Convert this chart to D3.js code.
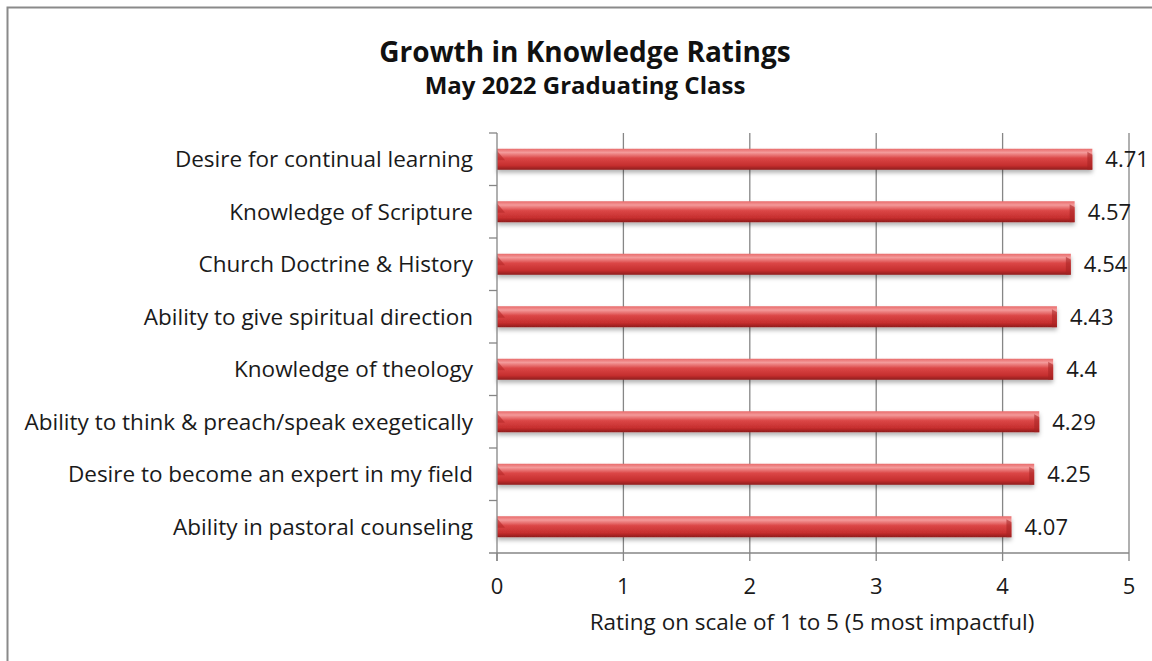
<!DOCTYPE html>
<html>
<head>
<meta charset="utf-8">
<script src="https://cdn.jsdelivr.net/npm/d3@7"></script>
<style>
  body { margin: 0; background: #fff; }
  svg { display: block; font-family: 'Open Sans', sans-serif; }
</style>
</head>
<body>
<div class="bar-chart"></div>
<script>
// ------------------------------------------------------
const width = 1152;
const height = 661;
const categories = [
    'Desire for continual learning',
    'Knowledge of Scripture',
    'Church Doctrine & History',
    'Ability to give spiritual direction',
    'Knowledge of theology',
    'Ability to think & preach/speak exegetically',
    'Desire to become an expert in my field',
    'Ability in pastoral counseling'
];
const ratings = [ 4.71, 4.57, 4.54, 4.43, 4.4, 4.29, 4.25, 4.07 ];
const ratingLabels = [ '4.71', '4.57', '4.54', '4.43', '4.4', '4.29', '4.25', '4.07' ];
const xTicks = [ 0, 1, 2, 3, 4, 5 ];
// ------------------------------------------------------
const plot = { left: 497, right: 1129, top: 133, bottom: 553 };
const textColor = '#1a1a1a';
const axisColor = '#868686';
// ------------------------------------------------------
const svg = d3.select( '.bar-chart' )
    .append( 'svg' )
    .attr( 'width', width )
    .attr( 'height', height );

// gradient for the cylinder look
const defs = svg.append( 'defs' );
const grad = defs.append( 'linearGradient' )
    .attr( 'id', 'barGrad' )
    .attr( 'x1', 0 ).attr( 'y1', 0 ).attr( 'x2', 0 ).attr( 'y2', 1 );
grad.append( 'stop' ).attr( 'offset', '0%' ).attr( 'stop-color', '#e86a6a' );
grad.append( 'stop' ).attr( 'offset', '18%' ).attr( 'stop-color', '#f49a9a' );
grad.append( 'stop' ).attr( 'offset', '45%' ).attr( 'stop-color', '#db4646' );
grad.append( 'stop' ).attr( 'offset', '80%' ).attr( 'stop-color', '#c52e2e' );
grad.append( 'stop' ).attr( 'offset', '100%' ).attr( 'stop-color', '#8e1c1c' );

const shadow = defs.append( 'filter' ).attr( 'id', 'shadow' )
    .attr( 'x', '-5%' ).attr( 'y', '-20%' ).attr( 'width', '110%' ).attr( 'height', '160%' );
shadow.append( 'feDropShadow' )
    .attr( 'dx', 0 ).attr( 'dy', 3 ).attr( 'stdDeviation', 2 )
    .attr( 'flood-color', '#000' ).attr( 'flood-opacity', 0.3 );

// outer frame (only left and top visible)
svg.append( 'rect' )
    .attr( 'x', 7.5 ).attr( 'y', 7.5 )
    .attr( 'width', width + 20 ).attr( 'height', height + 20 )
    .attr( 'fill', 'none' )
    .attr( 'stroke', '#8a8a8a' )
    .attr( 'stroke-width', 2 );

// ------------------------------------------------------
const x = d3.scaleLinear()
    .domain( [ 0, 5 ] )
    .range( [ plot.left, plot.right ] );

const y = d3.scaleBand()
    .domain( categories )
    .range( [ plot.top, plot.bottom ] )
    .paddingInner( 0.6 )
    .paddingOuter( 0.3 );

const yEdges = d3.scaleBand()
    .domain( categories )
    .range( [ plot.top, plot.bottom ] );

// gridlines
svg.append( 'g' )
    .selectAll( 'line' )
    .data( xTicks.slice( 1 ) )
    .enter()
    .append( 'line' )
    .attr( 'x1', d => x( d ) ).attr( 'x2', d => x( d ) )
    .attr( 'y1', plot.top ).attr( 'y2', plot.bottom )
    .attr( 'stroke', axisColor )
    .attr( 'stroke-width', 1.3 );

// bars
const bars = svg.append( 'g' )
    .selectAll( 'g' )
    .data( categories )
    .enter()
    .append( 'g' );

bars.append( 'rect' )
    .attr( 'x', x( 0 ) )
    .attr( 'y', d => y( d ) )
    .attr( 'width', ( d, i ) => x( ratings[ i ] ) - x( 0 ) )
    .attr( 'height', y.bandwidth() )
    .attr( 'fill', 'url(#barGrad)' )
    .attr( 'filter', 'url(#shadow)' );

// bevel at the left end
bars.append( 'path' )
    .attr( 'd', d => {
        const x0 = x( 0 ), y0 = y( d ), h = y.bandwidth();
        return 'M' + x0 + ',' + ( y0 + 2 ) + 'L' + ( x0 + 8 ) + ',' + ( y0 + h * 0.55 ) +
            'L' + x0 + ',' + ( y0 + h * 0.55 ) + 'Z';
    })
    .attr( 'fill', '#b62828' )
    .attr( 'opacity', 0.6 );

// bevel at the right end
bars.append( 'path' )
    .attr( 'd', ( d, i ) => {
        const x1 = x( ratings[ i ] ), y0 = y( d ), h = y.bandwidth();
        return 'M' + ( x1 - 5 ) + ',' + ( y0 + 3 ) + 'L' + x1 + ',' + ( y0 + 6 ) +
            'L' + x1 + ',' + ( y0 + h ) + 'L' + ( x1 - 5 ) + ',' + ( y0 + h ) + 'Z';
    })
    .attr( 'fill', '#a62222' )
    .attr( 'opacity', 0.55 );

// value labels
bars.append( 'text' )
    .attr( 'x', ( d, i ) => x( ratings[ i ] ) + 13 )
    .attr( 'y', d => y( d ) + y.bandwidth() / 2 )
    .attr( 'dy', '0.36em' )
    .attr( 'font-size', '22px' )
    .attr( 'fill', textColor )
    .text( ( d, i ) => ratingLabels[ i ] );

// y axis
const yAxis = svg.append( 'g' )
    .attr( 'transform', 'translate(' + plot.left + ',0)' );
yAxis.append( 'line' )
    .attr( 'x1', 0 ).attr( 'x2', 0 )
    .attr( 'y1', plot.top ).attr( 'y2', plot.bottom + 8 )
    .attr( 'stroke', axisColor ).attr( 'stroke-width', 1.3 );
yAxis.selectAll( '.tick-mark' )
    .data( categories )
    .enter()
    .append( 'line' )
    .attr( 'x1', -8 ).attr( 'x2', 0 )
    .attr( 'y1', d => yEdges( d ) ).attr( 'y2', d => yEdges( d ) )
    .attr( 'stroke', axisColor ).attr( 'stroke-width', 1.3 );
yAxis.selectAll( 'text' )
    .data( categories )
    .enter()
    .append( 'text' )
    .attr( 'x', -24 )
    .attr( 'y', d => y( d ) + y.bandwidth() / 2 )
    .attr( 'dy', '0.36em' )
    .attr( 'text-anchor', 'end' )
    .attr( 'font-size', '22.5px' )
    .attr( 'fill', textColor )
    .text( d => d );

// x axis
const xAxis = svg.append( 'g' )
    .attr( 'transform', 'translate(0,' + plot.bottom + ')' );
xAxis.append( 'line' )
    .attr( 'x1', plot.left - 8 ).attr( 'x2', plot.right )
    .attr( 'stroke', axisColor ).attr( 'stroke-width', 1.3 );
xAxis.selectAll( '.tick-mark' )
    .data( xTicks )
    .enter()
    .append( 'line' )
    .attr( 'x1', d => x( d ) ).attr( 'x2', d => x( d ) )
    .attr( 'y1', 0 ).attr( 'y2', 8 )
    .attr( 'stroke', axisColor ).attr( 'stroke-width', 1.3 );
xAxis.selectAll( 'text' )
    .data( xTicks )
    .enter()
    .append( 'text' )
    .attr( 'x', d => x( d ) )
    .attr( 'y', 41 )
    .attr( 'text-anchor', 'middle' )
    .attr( 'font-size', '22px' )
    .attr( 'fill', textColor )
    .text( d => d );

// axis title
svg.append( 'text' )
    .attr( 'x', 812 )
    .attr( 'y', 630 )
    .attr( 'text-anchor', 'middle' )
    .attr( 'font-size', '22.5px' )
    .attr( 'fill', textColor )
    .text( 'Rating on scale of 1 to 5 (5 most impactful)' );

// titles
svg.append( 'text' )
    .attr( 'x', 585 )
    .attr( 'y', 62 )
    .attr( 'text-anchor', 'middle' )
    .attr( 'font-size', '28px' )
    .attr( 'font-weight', 'bold' )
    .attr( 'fill', '#111' )
    .text( 'Growth in Knowledge Ratings' );
svg.append( 'text' )
    .attr( 'x', 585 )
    .attr( 'y', 94 )
    .attr( 'text-anchor', 'middle' )
    .attr( 'font-size', '24px' )
    .attr( 'font-weight', 'bold' )
    .attr( 'fill', '#111' )
    .text( 'May 2022 Graduating Class' );
</script>
</body>
</html>
